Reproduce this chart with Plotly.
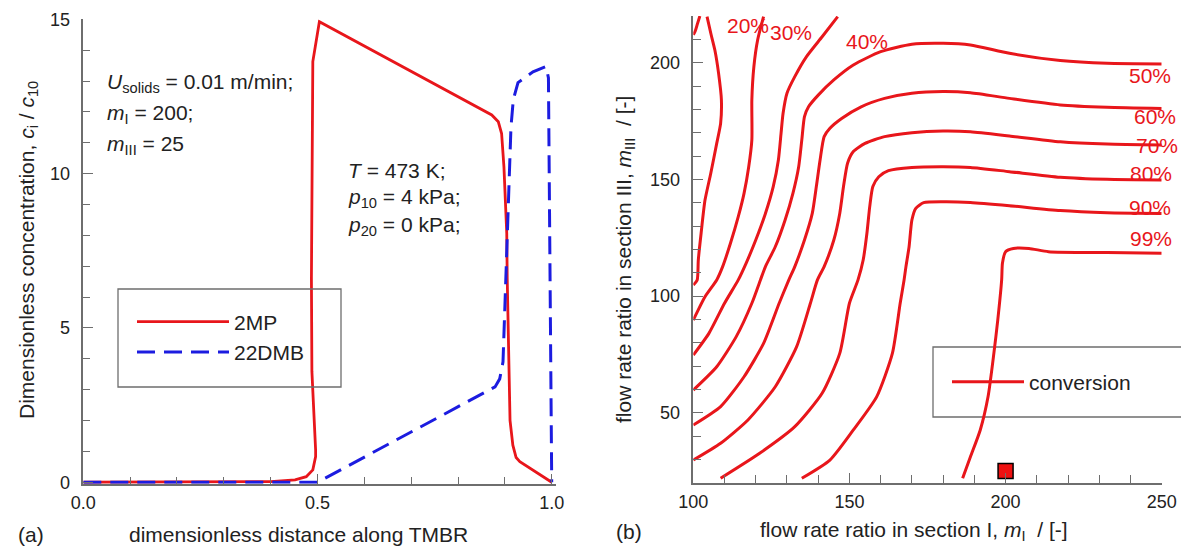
import plotly.graph_objects as go

# ---------------- Panel (a): concentration profiles ----------------
x_2mp = [0.0, 0.10, 0.20, 0.30, 0.40, 0.452, 0.476, 0.490, 0.496, 0.496, 0.492, 0.488,
         0.487, 0.488, 0.490, 0.504, 0.872, 0.886, 0.893, 0.898, 0.904, 0.905, 0.908,
         0.911, 0.917, 0.924, 0.932, 1.0]
y_2mp = [0.0, 0.0, 0.0, 0.0, 0.02, 0.075, 0.18, 0.40, 0.83, 1.04, 2.12, 3.6,
         6.6, 10.0, 13.63, 14.92, 11.9, 11.68, 11.3, 10.22, 8.07, 6.6, 3.6,
         2.0, 1.2, 0.8, 0.67, 0.0]

x_22dmb = [0.0, 0.45, 0.50, 0.879, 0.889, 0.896, 0.902, 0.908, 0.913, 0.918, 0.928,
           0.96, 0.988, 0.993, 0.997, 1.0]
y_22dmb = [0.0, 0.0, 0.0, 3.09, 3.35, 3.9, 6.5, 9.5, 11.5, 12.4, 12.95,
           13.3, 13.47, 13.1, 6.0, 0.0]

# ---------------- Panel (b): conversion iso-lines ----------------
conv_levels = ["10%", "20%", "30%", "40%", "50%", "60%", "70%", "80%", "90%", "99%"]

c10_x = [100.0, 100.6, 101.3, 102.1]
c10_y = [211.9, 213.5, 216.5, 220.0]

c20_x = [104.4, 105.6, 106.9, 108.1, 109.0, 108.75, 107.5, 105.6, 103.75, 102.5, 101.6, 101.25, 100.0]
c20_y = [219.7, 212.6, 205.4, 195.4, 184.0, 174.0, 165.4, 152.6, 141.1, 126.9, 115.4, 106.9, 104.7]

c30_x = [122.5, 120.6, 119.4, 118.75, 118.75, 117.75, 116.25, 114.4, 111.9, 109.4, 107.5, 103.75, 100.0]
c30_y = [219.7, 209.7, 198.3, 184.0, 166.9, 155.4, 144.0, 134.0, 122.6, 112.6, 106.9, 99.7, 89.7]

c40_x = [146.25, 141.25, 136.25, 132.5, 130.0, 128.75, 128.1, 127.25, 125.6, 123.1, 120.0,
         116.9, 114.4, 110.0, 105.0, 100.0]
c40_y = [219.7, 211.1, 202.6, 194.0, 186.9, 178.3, 169.7, 158.3, 146.9, 135.4, 124.0,
         114.0, 106.9, 96.9, 84.0, 74.7]

c50_x = [250.0, 232.5, 217.5, 201.25, 188.75, 180.0, 170.0, 160.0, 151.25, 145.0, 140.0,
         136.9, 135.6, 134.75, 133.75, 131.9, 129.4, 126.25, 123.1, 121.5, 118.75, 113.75,
         107.5, 100.0]
c50_y = [199.4, 199.7, 200.9, 204.0, 207.6, 208.3, 207.9, 204.7, 199.0, 192.6, 186.1,
         181.1, 176.9, 166.9, 155.4, 144.0, 132.6, 121.1, 112.6, 106.9, 96.9, 82.6,
         69.7, 59.7]

c60_x = [250.0, 232.5, 217.5, 201.25, 188.75, 180.0, 170.0, 161.25, 153.75, 147.5, 143.75,
         141.9, 140.6, 139.4, 138.1, 135.6, 132.5, 130.6, 127.5, 122.5, 116.25, 108.75, 100.0]
c60_y = [180.4, 180.9, 181.9, 184.7, 187.1, 187.6, 186.9, 184.7, 181.1, 176.1, 171.9,
         168.3, 158.3, 146.9, 135.4, 124.0, 112.6, 106.9, 96.9, 79.7, 65.4, 52.6, 44.7]

c70_x = [250.0, 232.5, 217.5, 201.25, 188.75, 180.0, 170.0, 161.25, 155.0, 151.25, 149.4,
         148.1, 146.9, 145.0, 141.9, 139.75, 137.5, 133.1, 126.25, 117.5, 108.75, 100.0]
c70_y = [164.7, 165.1, 166.1, 168.6, 170.4, 170.7, 170.0, 168.3, 165.4, 161.9, 156.9,
         146.9, 135.4, 124.0, 112.6, 106.9, 96.9, 78.3, 61.1, 46.9, 36.9, 29.7]

c80_x = [250.0, 232.5, 217.5, 201.25, 188.75, 180.0, 170.0, 162.5, 159.4, 157.5, 156.5,
         155.6, 154.4, 152.75, 150.0, 146.9, 141.25, 132.5, 121.25, 108.75]
c80_y = [149.7, 150.0, 150.9, 153.3, 155.1, 155.4, 155.1, 153.7, 151.1, 146.9, 138.3,
         126.9, 115.4, 106.9, 96.9, 75.4, 58.3, 44.0, 32.6, 21.9]

c90_x = [250.0, 232.5, 217.5, 201.25, 188.75, 180.0, 173.75, 171.25, 170.0, 169.1, 168.1,
         167.5, 166.25, 163.75, 158.75, 151.25, 143.75, 134.75]
c90_y = [135.4, 135.7, 136.6, 138.7, 140.1, 140.4, 140.0, 137.6, 132.6, 121.1, 112.6,
         106.9, 96.9, 75.4, 56.9, 42.6, 29.7, 21.9]

c99_x = [250.0, 232.5, 213.75, 207.5, 202.5, 200.0, 199.0, 198.75, 197.5, 196.25, 194.4,
         191.9, 188.75, 186.25]
c99_y = [118.3, 118.6, 119.0, 120.4, 120.4, 119.0, 114.0, 106.9, 89.7, 75.4, 56.9,
         42.6, 31.1, 21.9]

# operating point (m_I, m_III)
op_mI = [200]
op_mIII = [25]

# iso-line label anchors (data coordinates)
label_text = ["20%", "30%", "40%", "50%", "60%", "70%", "80%", "90%", "99%"]
label_x = [117.5, 131.4, 155.5, 246.3, 247.9, 248.5, 246.6, 246.3, 246.6]
label_y = [216.1, 212.9, 209.1, 194.7, 177.1, 164.7, 152.7, 138.1, 124.8]

# ---------------- figure ----------------
RED = "#e8161b"
BLUE = "#1c1ce0"
AX = "#6e6e6e"
FONT = "Liberation Sans, Arial, Helvetica, sans-serif"
PAGE_OFF = 8              # default body margin of the html page
W, H = 1189 - PAGE_OFF, 546 - PAGE_OFF

def px(x):
    return (x - PAGE_OFF) / W

def py(y):
    return 1 - (y - PAGE_OFF) / H

fig = go.Figure()

fig.add_trace(go.Scatter(x=x_2mp, y=y_2mp, mode="lines", name="2MP",
                         line=dict(color=RED, width=2.8), xaxis="x", yaxis="y",
                         legend="legend"))
fig.add_trace(go.Scatter(x=x_22dmb, y=y_22dmb, mode="lines", name="22DMB",
                         line=dict(color=BLUE, width=3, dash="18px,9px"),
                         xaxis="x", yaxis="y", legend="legend"))

curves = [(c10_x, c10_y), (c20_x, c20_y), (c30_x, c30_y), (c40_x, c40_y),
          (c50_x, c50_y), (c60_x, c60_y), (c70_x, c70_y), (c80_x, c80_y),
          (c90_x, c90_y), (c99_x, c99_y)]
for i, (cx, cy) in enumerate(curves):
    fig.add_trace(go.Scatter(x=cx, y=cy, mode="lines", name="conversion",
                             line=dict(color=RED, width=3, shape="spline", smoothing=0.6),
                             xaxis="x2", yaxis="y2", legend="legend2",
                             showlegend=(i == 0), hoverinfo="skip"))

fig.add_trace(go.Scatter(x=op_mI, y=op_mIII, mode="markers", showlegend=False,
                         marker=dict(symbol="square", size=15, color="#ee1111",
                                     line=dict(color="black", width=1.5)),
                         xaxis="x2", yaxis="y2", cliponaxis=False))

axis_common = dict(showline=True, linecolor=AX, linewidth=1.5, mirror=False,
                   ticks="inside", ticklen=10, tickwidth=1.3, tickcolor=AX,
                   showgrid=False, zeroline=False, automargin=False,
                   tickfont=dict(size=18, color="#222", family=FONT))

fig.update_layout(
    width=W, height=H,
    margin=dict(l=0, r=0, t=0, b=0, pad=0, autoexpand=False),
    paper_bgcolor="white", plot_bgcolor="white",
    font=dict(family=FONT, color="#222", size=21),
    xaxis=dict(domain=[px(83.3), px(556.4)], range=[0, 1.01],
               tickvals=[0, 0.5, 1.0], tickformat=".1f", anchor="y",
               ticklabelstandoff=2,
               minor=dict(ticks="inside", ticklen=7, dtick=0.1, tick0=0,
                          tickcolor=AX, tickwidth=1.3, showgrid=False),
               **axis_common),
    yaxis=dict(domain=[py(483.8), py(19.3)], range=[-0.05, 15],
               tickvals=[0, 5, 10, 15], anchor="x", ticklabelstandoff=8,
               minor=dict(ticks="inside", ticklen=7, dtick=1, tick0=0,
                          tickcolor=AX, tickwidth=1.3, showgrid=False),
               **axis_common),
    xaxis2=dict(domain=[px(693.3), px(1161.7)], range=[100, 250],
                tickvals=[100, 150, 200, 250], anchor="y2", ticklabelstandoff=2,
                minor=dict(ticks="inside", ticklen=8, dtick=10, tick0=100,
                           tickcolor=AX, tickwidth=1.3, showgrid=False),
                **axis_common),
    yaxis2=dict(domain=[py(482.7), py(16)], range=[20, 220],
                tickvals=[50, 100, 150, 200], anchor="x2", ticklabelstandoff=8,
                minor=dict(ticks="inside", ticklen=8, dtick=10, tick0=0,
                           tickcolor=AX, tickwidth=1.3, showgrid=False),
                **axis_common),
    legend=dict(x=px(132), y=py(337), xanchor="left", yanchor="middle",
                bgcolor="rgba(0,0,0,0)", borderwidth=0, itemwidth=92,
                font=dict(size=21, color="#222", family=FONT),
                tracegroupgap=0),
    legend2=dict(x=px(947), y=py(382), xanchor="left", yanchor="middle",
                 bgcolor="rgba(0,0,0,0)", borderwidth=0, itemwidth=72,
                 font=dict(size=21, color="#222", family=FONT)),
    shapes=[
        dict(type="rect", xref="paper", yref="paper",
             x0=px(118), x1=px(341), y0=py(387), y1=py(289),
             line=dict(color=AX, width=1.3), fillcolor="rgba(0,0,0,0)", layer="above"),
        dict(type="rect", xref="paper", yref="paper",
             x0=px(933), x1=px(1185), y0=py(417), y1=py(347),
             line=dict(color=AX, width=1.3), fillcolor="white", layer="below"),
    ],
)

ann = []
def text(x, y, s, size=21, xanchor="left", yanchor="middle", angle=0, xref="paper", yref="paper", color="#222"):
    ann.append(dict(x=x, y=y, xref=xref, yref=yref, text=s, showarrow=False,
                    xanchor=xanchor, yanchor=yanchor, textangle=angle,
                    font=dict(size=size, color=color, family=FONT)))

# panel (a) texts
text(px(105), py(83), "<i>U</i><sub>solids</sub> = 0.01 m/min;")
text(px(105), py(114), "<i>m</i><sub>I</sub> = 200;")
text(px(105), py(145), "<i>m</i><sub>III</sub> = 25")
text(px(346), py(171), "<i>T</i> = 473 K;")
text(px(346), py(198), "<i>p</i><sub>10</sub> = 4 kPa;")
text(px(346), py(226), "<i>p</i><sub>20</sub> = 0 kPa;")
text(px(298), py(534), "dimensionless distance along TMBR", xanchor="center")
text(px(16), py(534), "(a)")
text(px(28), py(250), "Dimensionless concentration, <i>c</i><sub>i</sub> / <i>c</i><sub>10</sub>",
     xanchor="center", angle=-90)

# panel (b) texts
text(px(914), py(531), "flow rate ratio in section I, <i>m</i><sub>I</sub>  / [-]", xanchor="center")
text(px(614), py(531), "(b)")
text(px(625), py(260), "flow rate ratio in section III, <i>m</i><sub>III</sub>  / [-]",
     xanchor="center", angle=-90)

for t, lx, ly in zip(label_text, label_x, label_y):
    text(lx, ly, t, xanchor="center", xref="x2", yref="y2", color=RED)

fig.update_layout(annotations=ann)

fig.write_html("out.html")
